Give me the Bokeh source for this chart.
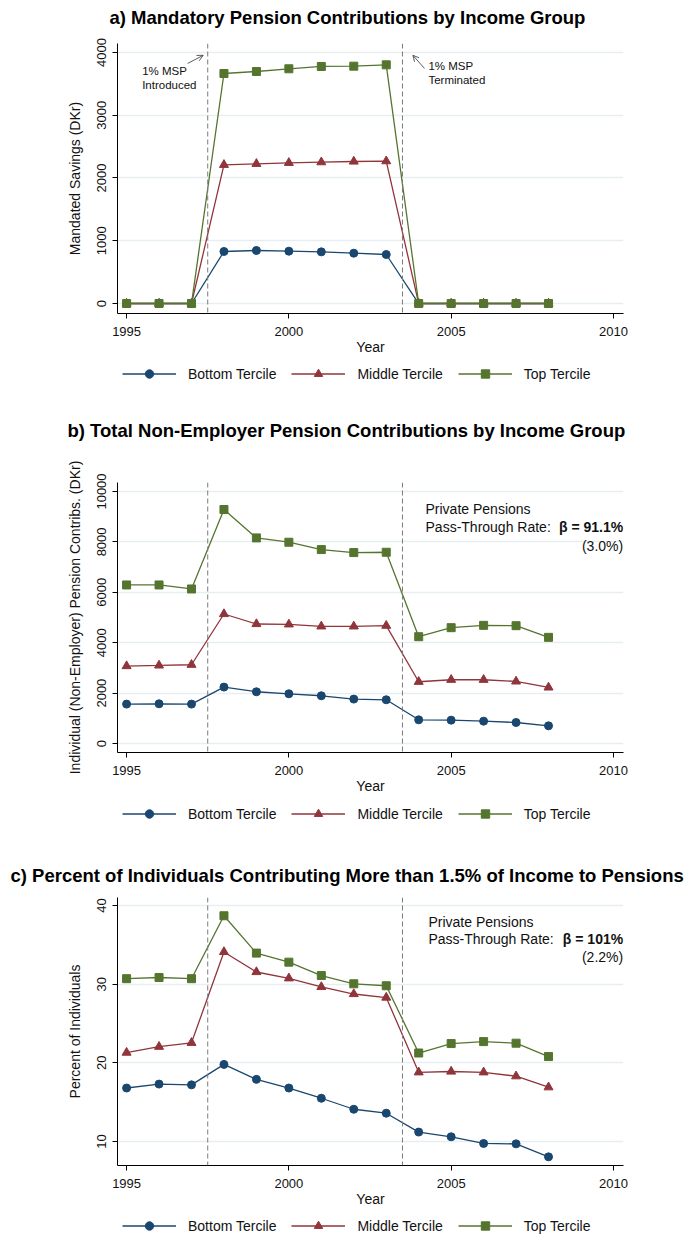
from bokeh.plotting import figure
from bokeh.models import Range1d, Span, Label, Arrow, OpenHead, Legend, LegendItem, FixedTicker
from bokeh.layouts import column
from bokeh.embed import file_html
from bokeh.resources import INLINE

FONT = "Liberation Sans"
NAVY = "#1A476F"
MAROON = "#90353B"
GREEN = "#55752F"
W = 686

years = list(range(1995, 2009))
terciles = ["Bottom Tercile", "Middle Tercile", "Top Tercile"]
x_ticks = [1995, 2000, 2005, 2010]

# a) mandatory savings (DKr)
a_bottom = [0, 0, 0, 829, 845, 834, 823, 802, 781, 0, 0, 0, 0, 0]
a_middle = [0, 0, 0, 2210, 2226, 2242, 2252, 2263, 2268, 0, 0, 0, 0, 0]
a_top = [0, 0, 0, 3665, 3697, 3740, 3777, 3782, 3803, 0, 0, 0, 0, 0]

# b) non-employer pension contributions (DKr)
b_bottom = [1563, 1576, 1563, 2238, 2053, 1973, 1894, 1762, 1735, 940, 927, 887, 834, 702]
b_middle = [3073, 3099, 3126, 5139, 4742, 4728, 4649, 4649, 4675, 2450, 2530, 2530, 2464, 2225]
b_top = [6291, 6291, 6132, 9285, 8159, 7987, 7695, 7576, 7589, 4238, 4596, 4689, 4675, 4212]

# c) percent contributing more than 1.5% of income
c_bottom = [16.8, 17.3, 17.2, 19.8, 17.9, 16.8, 15.5, 14.1, 13.6, 11.2, 10.6, 9.75, 9.7, 8.05]
c_middle = [21.3, 22.05, 22.55, 34.1, 31.55, 30.75, 29.65, 28.75, 28.3, 18.8, 18.9, 18.8, 18.3, 16.9]
c_top = [30.7, 30.85, 30.7, 38.7, 33.95, 32.8, 31.1, 30.05, 29.8, 21.25, 22.45, 22.7, 22.5, 20.8]

policy_years = [1997.5, 2003.5]
styles = [(NAVY, "circle", 8), (MAROON, "triangle", 9), (GREEN, "square", 8)]


def strip(h, top=0):
    # blank full-width figure used for titles and legends
    p = figure(width=W, height=h, min_border_left=117, min_border_right=63,
               min_border_top=top, min_border_bottom=0,
               x_range=Range1d(0, 1), y_range=Range1d(0, 1),
               x_axis_type=None, y_axis_type=None,
               toolbar_location=None, output_backend="svg")
    p.grid.visible = False
    p.outline_line_color = None
    return p


def make_title(text, h, offset, standoff):
    p = strip(h, top=h - 2)
    p.title.text = text
    p.title.align = "left"
    p.title.offset = offset
    p.title.standoff = standoff
    p.title.text_font = FONT
    p.title.text_font_size = "18.5px"
    p.title.text_font_style = "bold"
    p.title.text_color = "black"
    return p


def make_legend(h, series):
    p = strip(h)
    items = []
    for name, vals, (color, marker, size) in zip(terciles, series, styles):
        # series drawn far outside this strip's range: only the legend keys show
        r1 = p.line(years, vals, line_color=color, line_width=1.3)
        r2 = p.scatter(years, vals, marker=marker, size=size, fill_color=color, line_color=color)
        items.append(LegendItem(label=name, renderers=[r1, r2]))
    legend = Legend(items=items, orientation="horizontal", location="top_left",
                    glyph_width=54, glyph_height=21, label_standoff=12, spacing=15,
                    padding=5, margin=5, border_line_color=None,
                    background_fill_alpha=0, label_text_font=FONT,
                    label_text_font_size="14px", label_text_color="#111111")
    p.add_layout(legend)
    return p


def make_panel(ylabel, yrange, yticks, series, h, top, bottom):
    p = figure(width=W, height=h,
               min_border_left=117, min_border_right=63,
               min_border_top=top, min_border_bottom=bottom,
               x_range=Range1d(1994.72, 2010.31), y_range=Range1d(*yrange),
               toolbar_location=None, output_backend="svg")
    p.xaxis.ticker = FixedTicker(ticks=x_ticks)
    p.yaxis.ticker = FixedTicker(ticks=yticks)
    p.xaxis.axis_label = "Year"
    p.yaxis.axis_label = ylabel
    p.yaxis.major_label_orientation = "vertical"
    for ax in (p.xaxis[0], p.yaxis[0]):
        ax.major_tick_in = 0
        ax.major_tick_out = 5
        ax.minor_tick_in = 0
        ax.minor_tick_out = 0
        ax.axis_line_color = "black"
        ax.major_tick_line_color = "black"
        ax.major_label_text_font = FONT
        ax.major_label_text_font_size = "13px"
        ax.major_label_text_color = "#111111"
        ax.axis_label_text_font = FONT
        ax.axis_label_text_font_size = "14px"
        ax.axis_label_text_font_style = "normal"
        ax.axis_label_text_color = "#111111"
    p.xaxis.major_label_standoff = 8
    p.xaxis.axis_label_standoff = 0
    p.yaxis.major_label_standoff = 6
    p.yaxis.axis_label_standoff = 12

    p.xgrid.visible = False
    p.ygrid.grid_line_color = "#E6EEF1"
    p.ygrid.grid_line_width = 1.6
    p.outline_line_color = None

    for yr in policy_years:
        p.add_layout(Span(location=yr, dimension="height", line_color="#7A7A7A",
                          line_dash="5 3", line_width=1))

    for vals, (color, marker, size) in zip(series, styles):
        p.line(years, vals, line_color=color, line_width=1.3)
        p.scatter(years, vals, marker=marker, size=size, fill_color=color, line_color=color)
    return p


def note(p, x, y, text, align="left", style="normal", size="14px"):
    p.add_layout(Label(x=x, y=y, text=text, text_align=align, text_baseline="middle",
                       text_font=FONT, text_font_size=size, text_font_style=style,
                       text_color="#111111"))


sa = [a_bottom, a_middle, a_top]
sb = [b_bottom, b_middle, b_top]
sc = [c_bottom, c_middle, c_top]

ta = make_title("a) Mandatory Pension Contributions by Income Group", 30, -8, 1)
pa = make_panel("Mandated Savings (DKr)", (-159, 4143), [0, 1000, 2000, 3000, 4000],
                sa, 328, 13, 45)
note(pa, 1995.48, 3697, "1% MSP", size="11.5px")
note(pa, 1995.48, 3474, "Introduced", size="11.5px")
note(pa, 2004.30, 3777, "1% MSP", size="11.5px")
note(pa, 2004.30, 3554, "Terminated", size="11.5px")
pa.add_layout(Arrow(end=OpenHead(size=6, line_width=0.8, line_color="#333333"),
                    x_start=1996.88, y_start=3825, x_end=1997.36, y_end=3955,
                    line_width=0.8, line_color="#333333"))
pa.add_layout(Arrow(end=OpenHead(size=6, line_width=0.8, line_color="#333333"),
                    x_start=2004.18, y_start=3745, x_end=2003.82, y_end=3955,
                    line_width=0.8, line_color="#333333"))
la = make_legend(42, sa)

tb = make_title("b) Total Non-Employer Pension Contributions by Income Group", 55, -50, 25)
pb = make_panel("Individual (Non-Employer) Pension Contribs. (DKr)", (-357, 10357),
                [0, 2000, 4000, 6000, 8000, 10000], sb, 343, 27, 46)
note(pb, 2004.21, 9286, "Private Pensions")
note(pb, 2004.21, 8611, "Pass-Through Rate: ")
note(pb, 2010.3, 8611, "\u03b2 = 91.1%", align="right", style="bold")
note(pb, 2010.3, 7857, "(3.0%)", align="right")
lb = make_legend(42, sb)

tc = make_title("c) Percent of Individuals Contributing More than 1.5% of Income to Pensions",
                48, -107, 1)
pc = make_panel("Percent of Individuals", (6.95, 41.02), [10, 20, 30, 40], sc, 322, 9, 45)
note(pc, 2004.3, 37.96, "Private Pensions")
note(pc, 2004.3, 35.76, "Pass-Through Rate: ")
note(pc, 2010.3, 35.76, "\u03b2 = 101%", align="right", style="bold")
note(pc, 2010.3, 33.42, "(2.2%)", align="right")
lc = make_legend(27, sc)

layout = column(ta, pa, la, tb, pb, lb, tc, pc, lc, spacing=0)
open("out.html", "w").write(file_html(layout, INLINE))
